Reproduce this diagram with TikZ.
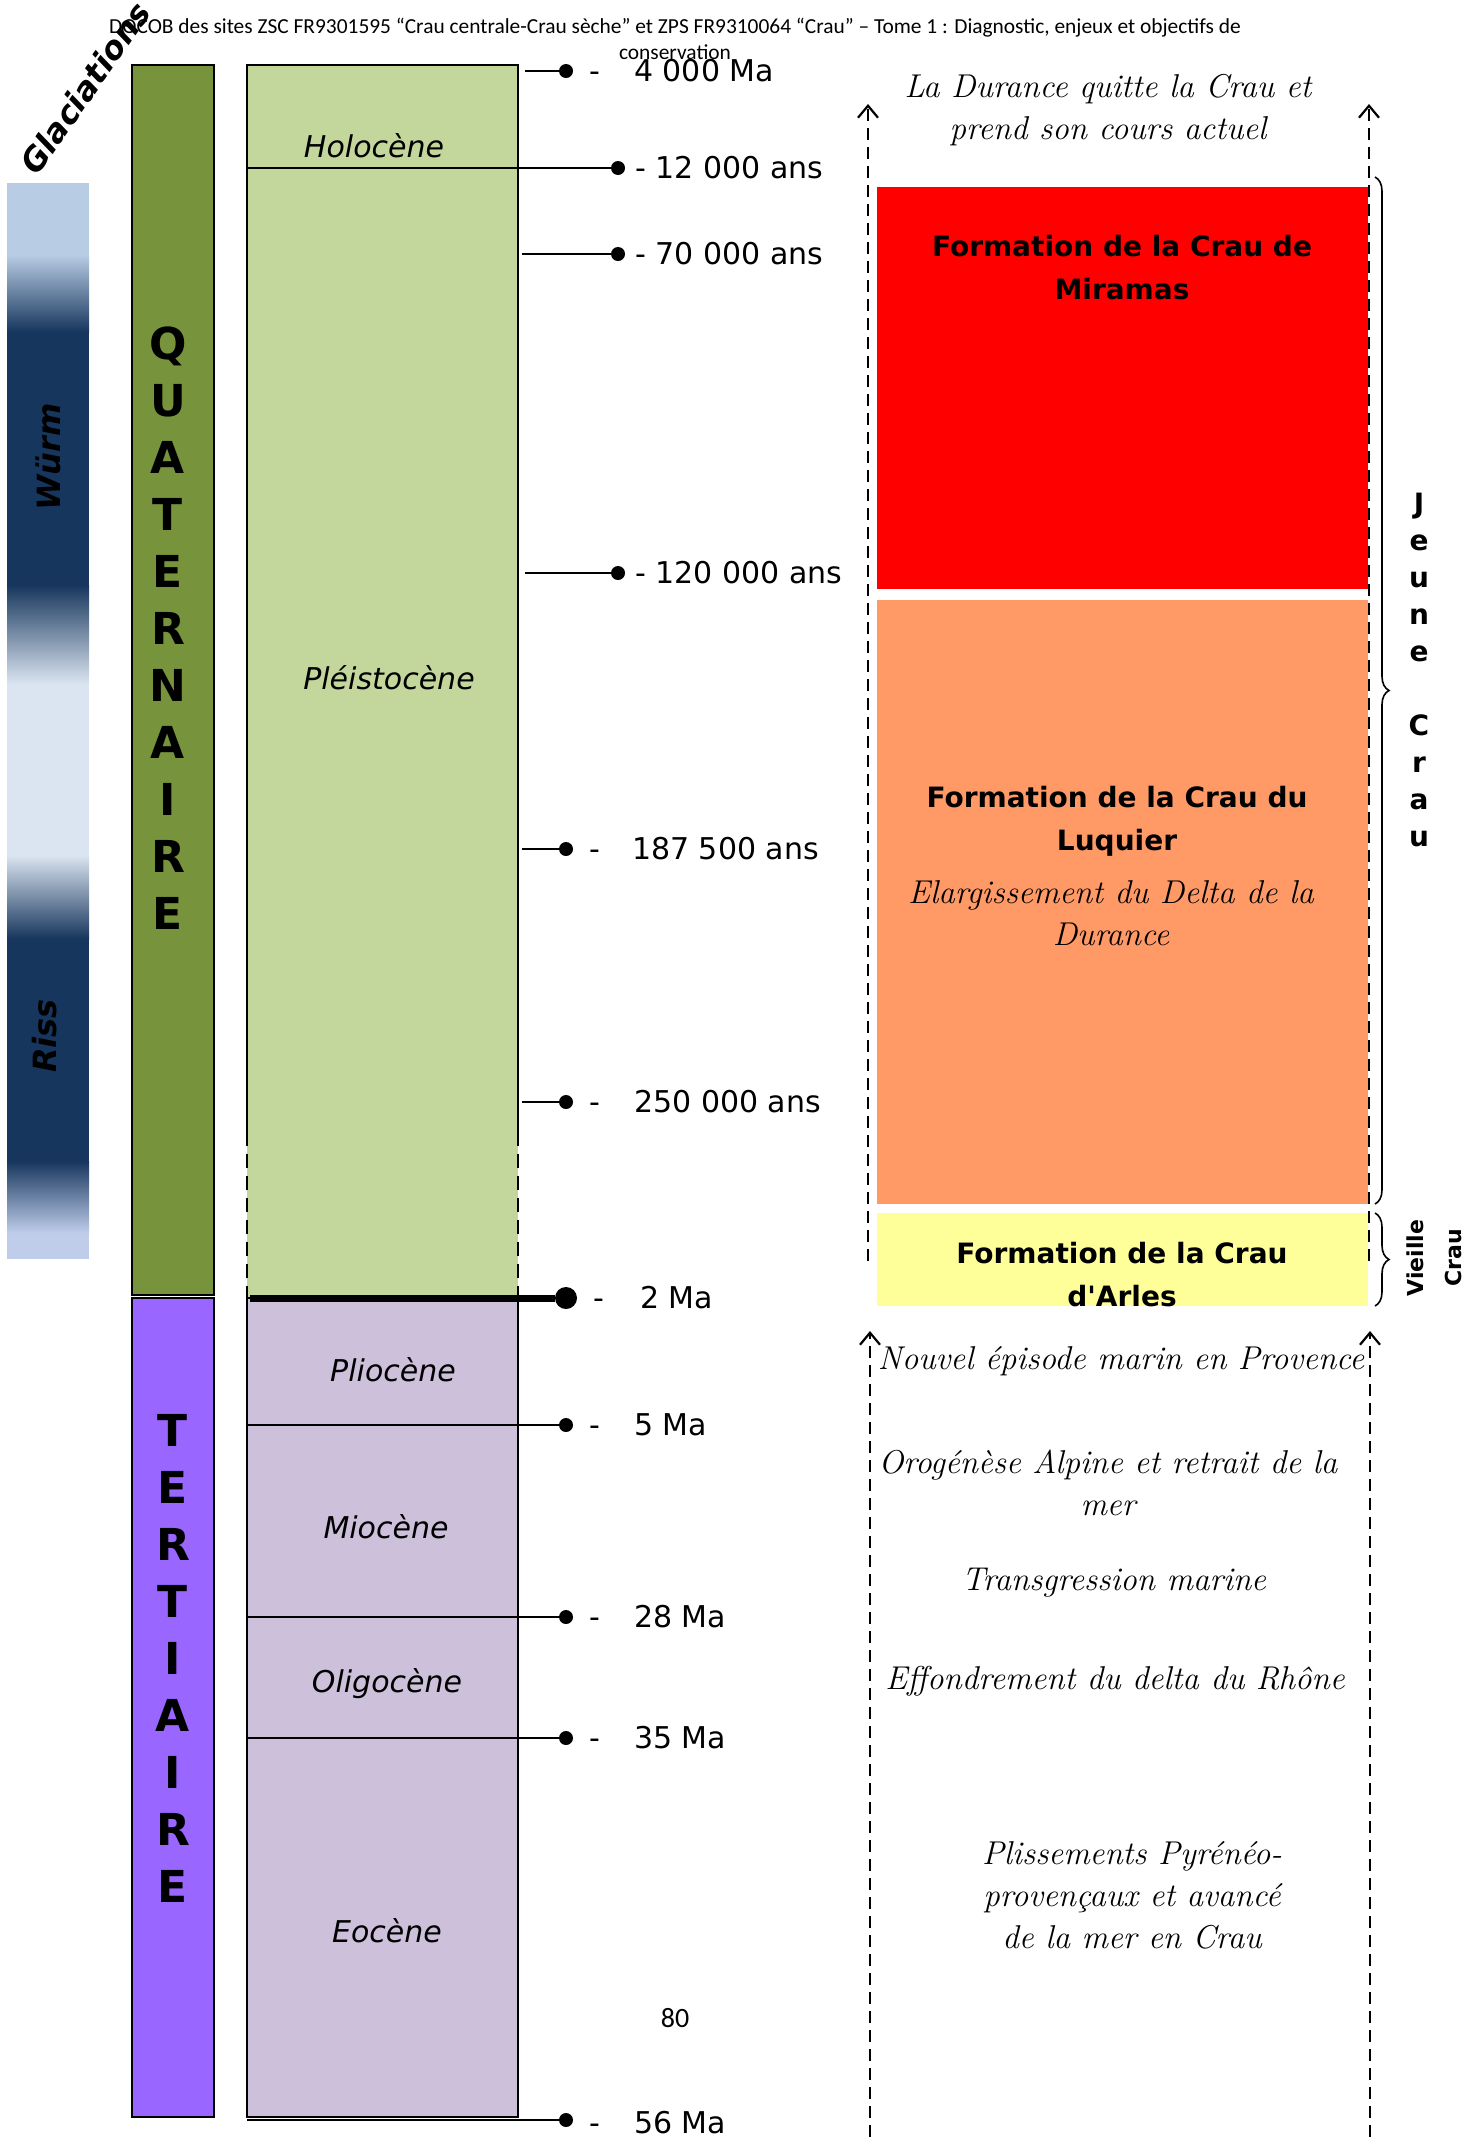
\documentclass[tikz,border=0pt]{standalone}
\usepackage{fontspec}
\newfontfamily\comic{DejaVu Sans}
\newfontfamily\hdr{Carlito}
\usetikzlibrary{arrows.meta,decorations.pathreplacing}
\definecolor{quatgreen}{HTML}{77933C}
\definecolor{pleisto}{HTML}{C3D69B}
\definecolor{tertviolet}{HTML}{9966FF}
\definecolor{tertlav}{HTML}{CCC0DA}
\definecolor{glacdark}{HTML}{17365D}
\definecolor{glaclight}{HTML}{B8CCE4}
\definecolor{glacpale}{HTML}{DBE5F1}
\definecolor{glacbot}{HTML}{BFCDEB}
\definecolor{miramas}{HTML}{FF0000}
\definecolor{luquier}{HTML}{FF9966}
\definecolor{arles}{HTML}{FFFF99}
\tikzstyle{tick}=[line width=1pt]
\tikzstyle{dot}=[circle,fill=black,inner sep=0pt,minimum size=7pt]
\tikzstyle{date}=[anchor=west,inner sep=0pt,font=\comic\fontsize{15}{18}\selectfont]
\tikzstyle{epoch}=[font=\comic\itshape\fontsize{15}{18}\selectfont]
\tikzstyle{crau}=[align=center,font=\comic\bfseries\fontsize{14}{21.5}\selectfont]
\tikzstyle{event}=[align=center,font=\itshape\fontsize{16.5}{21}\selectfont]
\tikzstyle{era}=[align=center,font=\comic\bfseries\fontsize{22}{28.5}\selectfont]
\tikzstyle{timeline}=[line width=1.1pt,dash pattern=on 6pt off 3.5pt,-{Straight Barb[length=6pt,width=10pt]}]

\begin{document}
\begin{tikzpicture}[x=0.5pt,y=-0.5pt]
\tikzstyle{glac}=[font=\comic\bfseries\itshape\fontsize{16}{18}\selectfont]
\tikzstyle{brace}=[thick,decorate,decoration={brace,amplitude=7pt}]
\useasboundingbox (0,0) rectangle (1467,2137);

\node (header) [align=center,font=\hdr\fontsize{10.7}{13}\selectfont] at (675,39)
  {DOCOB des sites ZSC FR9301595 “Crau centrale-Crau sèche” et ZPS FR9310064 “Crau” – Tome 1 : Diagnostic, enjeux et objectifs de\\conservation};

\fill[glaclight] (7,183) rectangle (89,255);
\shade[top color=glaclight,bottom color=glacdark] (7,255) rectangle (89,332);
\fill[glacdark] (7,332) rectangle (89,585);
\shade[top color=glacdark,bottom color=glacpale] (7,585) rectangle (89,684);
\fill[glacpale] (7,684) rectangle (89,855);
\shade[top color=glacpale,bottom color=glacdark] (7,855) rectangle (89,939);
\fill[glacdark] (7,939) rectangle (89,1161);
\shade[top color=glacdark,bottom color=glacbot] (7,1161) rectangle (89,1233);
\fill[glacbot] (7,1233) rectangle (89,1259);
\node (glaciations) [glac,rotate=55] at (85,88) {Glaciations};
\node (wurm) [glac,rotate=90] at (48,457) {Würm};
\node (riss) [glac,rotate=90] at (45,1036) {Riss};

\draw[fill=quatgreen,line width=0.6pt] (132,65) rectangle (214,1295);
\draw[fill=tertviolet,line width=0.6pt] (132,1298) rectangle (214,2117);
\node (quat) [era] at (168,628) {Q\\U\\A\\T\\E\\R\\N\\A\\I\\R\\E};
\node (tert) [era] at (173,1658) {T\\E\\R\\T\\I\\A\\I\\R\\E};

\fill[pleisto] (247,65) rectangle (518,1298);
\draw[line width=0.8pt] (247,1132) -- (247,65) -- (518,65) -- (518,1132);
\draw[line width=0.8pt,dash pattern=on 7pt off 4pt] (247,1132) -- (247,1298);
\draw[line width=0.8pt,dash pattern=on 7pt off 4pt] (518,1132) -- (518,1298);
\draw[fill=tertlav,line width=0.8pt] (247,1298) rectangle (518,2117);

\node (holo) [epoch] at (374,146) {Holocène};
\node (pleis) [epoch] at (389,678) {Pléistocène};
\node (plio) [epoch] at (393,1370) {Pliocène};
\node (mio) [epoch] at (386,1527) {Miocène};
\node (oligo) [epoch] at (387,1684) {Oligocène};
\node (eoc) [epoch] at (387,1931) {Eocène};

\node (d4000) [dot] at (566,71) {};
\node (d12) [dot] at (618,168) {};
\node (d70) [dot] at (618,254) {};
\node (d120) [dot] at (618,573) {};
\node (d187) [dot] at (566,849) {};
\node (d250) [dot] at (566,1102) {};
\node (d2) [dot,minimum size=11pt] at (566,1298) {};
\node (d5) [dot] at (566,1425) {};
\node (d28) [dot] at (566,1617) {};
\node (d35) [dot] at (566,1738) {};
\node (d56) [dot] at (566,2120) {};

\draw[tick] (525,71) -- (d4000);
\draw[tick] (247,168) -- (d12);
\draw[tick] (522,254) -- (d70);
\draw[tick] (525,573) -- (d120);
\draw[tick] (522,849) -- (d187);
\draw[tick] (522,1102) -- (d250);
\draw[line width=3.5pt] (250,1298) -- (d2);
\draw[tick] (247,1425) -- (d5);
\draw[tick] (247,1617) -- (d28);
\draw[tick] (247,1738) -- (d35);
\draw[tick] (247,2120) -- (d56);

\node (l4000) [date] at (589,71) {-\hspace{17pt}4 000 Ma};
\node (l12) [date] at (635,168) {- 12 000 ans};
\node (l70) [date] at (635,254) {- 70 000 ans};
\node (l120) [date] at (635,573) {- 120 000 ans};
\node (l187) [date] at (589,849) {-\hspace{16pt}187 500 ans};
\node (l250) [date] at (589,1102) {-\hspace{17pt}250 000 ans};
\node (l2) [date] at (593,1298) {-\hspace{18pt}2 Ma};
\node (l5) [date] at (589,1425) {-\hspace{17pt}5 Ma};
\node (l28) [date] at (589,1617) {-\hspace{17pt}28 Ma};
\node (l35) [date] at (589,1738) {-\hspace{17pt}35 Ma};
\node (l56) [date] at (589,2123) {-\hspace{17pt}56 Ma};

\fill[miramas] (877,187) rectangle (1368,589);
\fill[luquier] (877,600) rectangle (1368,1204);
\fill[arles] (877,1213) rectangle (1368,1306);

\node (durance) [event] at (1108,110) {La Durance quitte la Crau et\\prend son cours actuel};
\node (fmir) [crau] at (1122,268) {Formation de la Crau de\\Miramas};
\node (fluq) [crau] at (1117,821) {Formation de la Crau du\\Luquier};
\node (elarg) [event] at (1111,913) {Elargissement du Delta de la\\Durance};
\node (farl) [crau] at (1122,1275) {Formation de la Crau\\d'Arles};
\node (nouvel) [event] at (1121,1361) {Nouvel épisode marin en Provence};
\node (orog) [event] at (1108,1483) {Orogénèse Alpine et retrait de la\\mer};
\node (transg) [event] at (1114,1583) {Transgression marine};
\node (effond) [event] at (1115,1681) {Effondrement du delta du Rhône};
\node (pliss) [event] at (1132,1895) {Plissements Pyrénéo-\\provençaux et avancé\\de la mer en Crau};

\coordinate (upL0) at (868,1261);
\coordinate (upL1) at (868,104);
\coordinate (upR0) at (1369,1261);
\coordinate (upR1) at (1369,104);
\coordinate (loL0) at (870,2137);
\coordinate (loL1) at (870,1331);
\coordinate (loR0) at (1370,2137);
\coordinate (loR1) at (1370,1331);
\draw[timeline] (upL0) -- (upL1);
\draw[timeline] (upR0) -- (upR1);
\draw[timeline] (loL0) -- (loL1);
\draw[timeline] (loR0) -- (loR1);

\coordinate (jc0) at (1375,177);
\coordinate (jc1) at (1375,1204);
\coordinate (vc0) at (1375,1213);
\coordinate (vc1) at (1375,1306);
\draw[brace] (jc0) -- (jc1);
\draw[brace] (vc0) -- (vc1);
\node (jeune) [align=center,font=\comic\bfseries\fontsize{14}{18.5}\selectfont] at (1419,670)
  {J\\e\\u\\n\\e\\ \\C\\r\\a\\u};
\node (vieille) [rotate=90,font=\comic\bfseries\fontsize{11}{13}\selectfont] at (1415,1258) {Vieille};
\node (vcrau) [rotate=90,font=\comic\bfseries\fontsize{11}{13}\selectfont] at (1453,1258) {Crau};

\node (page) [font=\hdr\fontsize{14}{16}\selectfont] at (675,2018) {80};
\end{tikzpicture}
\end{document}
